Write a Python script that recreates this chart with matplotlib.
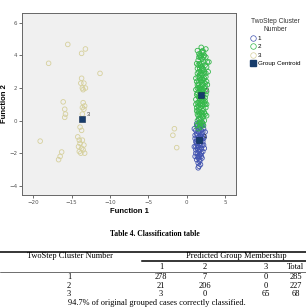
import numpy as np
import matplotlib
matplotlib.use("Agg")
import matplotlib.pyplot as plt
from matplotlib.lines import Line2D

# cluster 1 (blue)
c1_x = [1.6, 2.0, 1.4, 1.8, 2.2, 1.2, 1.6, 2.0, 1.4, 1.8, 2.3, 1.1, 1.5, 1.9, 2.1, 1.3, 1.7, 2.2, 1.0, 1.5,
        1.9, 1.2, 1.7, 2.1, 1.4, 1.8, 1.1, 1.6, 2.0, 1.3, 1.7, 1.5, 1.8, 1.6, 1.7, 1.5, 1.9, 1.3, 1.7, 1.4,
        1.8, 1.6, 1.5, 1.9, 2.0, 1.2, 1.6, 1.8, 1.4, 2.1,
        1.3, 2.1, 1.0, 2.4, 1.1, 2.2, 1.3, 2.0, 1.2, 2.3, 1.5, 1.9, 1.2, 1.4, 1.7, 1.7, 1.5, 2.0, 1.6, 1.9]
c1_y = [0.1, -0.1, -0.3, -0.4, -0.5, -0.6, -0.7, -0.8, -0.9, -1.0, -1.0, -1.1, -1.2, -1.2, -1.3, -1.4, -1.4, -1.5, -1.6, -1.6,
        -1.7, -1.8, -1.8, -1.9, -2.0, -2.1, -2.2, -2.2, -2.3, -2.4, -2.5, -2.6, -2.7, -2.8, -0.2, -0.5, -0.6, -0.8, -1.1, -1.5,
        -1.5, -1.9, -2.3, -2.0, -1.1, -1.3, -1.0, -0.9, -1.7, -0.7,
        -0.2, -0.3, -0.5, -0.7, -0.9, -1.1, -1.2, -1.5, -1.6, -1.7, -1.8, -2.2, -2.0, -2.2, -2.1, -2.4, -2.9, -1.0, -0.4, -0.3]

# cluster 2 (green)
c2_x = [1.9, 2.5, 2.1, 1.6, 2.3, 1.8, 2.7, 2.0, 1.5, 2.2, 1.7, 2.4, 1.9, 1.4, 2.1, 1.6, 2.3, 1.8, 2.0, 1.5,
        2.5, 1.7, 2.2, 1.3, 1.9, 2.4, 1.6, 2.1, 1.8, 1.4, 2.3, 2.0, 1.6, 2.6, 1.8, 1.3, 2.2, 1.5, 2.4, 1.9,
        1.7, 2.1, 1.4, 2.3, 1.8, 1.5, 2.0, 2.5, 1.6, 2.2, 1.3, 1.9, 1.7, 2.4, 1.5, 2.1, 1.8, 1.4, 2.0, 1.6,
        2.2, 1.8, 1.5, 2.0, 1.7, 2.2, 1.8, 2.0, 1.7, 2.3, 1.5, 2.0, 1.7, 2.1, 1.9, 1.6, 2.2, 1.9, 1.7, 2.1,
        1.9, 1.6, 2.3, 1.7, 2.8, 1.2, 2.6, 2.4, 1.8, 2.0,
        1.4, 2.2, 1.6, 2.5, 1.3, 2.6, 1.5, 2.2, 1.4, 2.5, 1.2, 2.0, 2.6, 1.4, 2.4, 1.2, 1.9, 2.5, 1.4, 2.0,
        1.2, 2.4, 1.6, 2.6, 1.3, 1.8, 2.3, 1.4, 2.2, 1.6, 2.1, 1.3, 1.9, 2.0, 1.7, 2.1, 1.8, 1.6, 2.2, 1.7,
        2.1, 1.5, 2.0, 1.8, 2.9, 2.7]
c2_y = [4.5, 4.4, 4.3, 4.1, 4.0, 3.9, 3.6, 3.8, 3.7, 3.6, 3.5, 3.4, 3.3, 3.2, 3.2, 3.0, 3.0, 2.9, 2.8, 2.7,
        2.7, 2.6, 2.5, 2.4, 2.4, 2.3, 2.2, 2.2, 2.1, 2.0, 2.0, 1.9, 1.8, 1.8, 1.7, 1.6, 1.6, 1.5, 1.4, 1.4,
        1.3, 1.2, 1.1, 1.1, 1.0, 0.9, 0.9, 0.8, 0.7, 0.7, 0.6, 0.5, 0.4, 0.4, 0.3, 0.2, 0.1, 0.0, -0.1, -0.2,
        -0.3, -0.4, -0.5, 4.2, 4.0, 3.9, 3.4, 3.1, 2.8, 2.6, 2.3, 2.2, 2.0, 1.8, 1.6, 1.4, 1.3, 1.2, 1.0, 0.6,
        0.3, 0.5, 0.0, -0.1, 3.0, 1.0, 0.3, 1.0, 1.9, 2.5,
        4.3, 4.2, 3.9, 3.9, 3.5, 3.3, 3.4, 3.1, 2.9, 2.9, 2.6, 2.6, 2.4, 2.2, 2.1, 1.9, 1.9, 1.6, 1.7, 1.5,
        1.3, 1.2, 1.1, 1.0, 0.8, 0.8, 0.5, 0.4, 0.3, 0.1, -0.2, -0.3, 4.0, 3.5, 3.2, 2.9, 2.5, 2.0, 1.9, 1.5,
        1.0, 0.6, 0.4, -0.2, 3.6, 2.2]

# cluster 3 (beige)
c3_x = [-15.5, -18.0, -13.7, -13.2, -11.3, -13.7, -13.4, -13.6, -13.2, -13.5, -16.1, -15.9, -15.8, -15.9, -13.5, -13.3,
        -13.6, -13.4, -13.9, -13.7, -19.1, -14.2, -13.6, -13.9, -13.4, -14.1, -13.7, -13.5, -14.0, -13.3, -16.3, -16.5,
        -16.7, -1.6, -1.8, -1.3, -13.8, -13.6, -14.0, -13.8]
c3_y = [4.68, 3.52, 4.13, 4.4, 2.9, 2.6, 2.3, 2.0, 2.0, 1.9, 1.15, 0.7, 0.4, 0.2, 1.1, 0.9,
        0.8, 0.7, -0.4, -0.6, -1.26, -1.0, -1.2, -1.4, -1.5, -1.6, -1.7, -1.8, -1.9, -2.0, -1.93, -2.2,
        -2.4, -0.5, -0.9, -1.66, 2.3, 0.4, -1.2, -2.0]

cent_x = [1.63, 1.85, -13.6]
cent_y = [-1.21, 1.59, 0.11]
cent_lab = ["1", "2", "3"]

col_labels = ["1", "2", "3", "Total"]
row_labels = ["1", "2", "3"]
table_vals = [[278, 7, 0, 285],
              [21, 206, 0, 227],
              [3, 0, 65, 68]]

W, H = 306, 308
fig = plt.figure(figsize=(3.06, 3.08), dpi=100)
ax = fig.add_axes([22/W, 1 - 195/H, 214/W, 182/H])
ax.set_facecolor('#F0F0F0')

ax.scatter(c1_x, c1_y, s=11, facecolors='none', edgecolors='#4254B0', linewidths=0.6, zorder=2)
ax.scatter(c2_x, c2_y, s=11, facecolors='none', edgecolors='#34B84A', linewidths=0.6, zorder=3)
ax.scatter(c3_x, c3_y, s=11, facecolors='none', edgecolors='#D6D09C', linewidths=0.6, zorder=2)
ax.scatter(cent_x, cent_y, s=24, marker='s', color='#173C6B', edgecolors='#0E2A4E', linewidths=0.4, zorder=5)
for cx, cy, lb in zip(cent_x, cent_y, cent_lab):
    ax.text(cx + 0.6, cy + 0.15, lb, fontsize=4, color='#333333', family='Liberation Sans', zorder=6)

ax.set_xlim(-21.47, 6.43)
ax.set_ylim(-4.57, 6.61)
ax.set_xticks([-20, -15, -10, -5, 0, 5])
ax.set_yticks([-4, -2, 0, 2, 4, 6])
ax.tick_params(labelsize=4, colors='#555555', length=2.5, width=0.6, pad=1)
for sp in ax.spines.values():
    sp.set_color('#666666')
    sp.set_linewidth(0.7)
ax.set_xlabel("Function 1", fontsize=5.5, fontweight='bold', family='Liberation Sans', labelpad=2)
ax.set_ylabel("Function 2", fontsize=5.5, fontweight='bold', family='Liberation Sans', labelpad=0.5)

# legend
handles = [Line2D([], [], ls='none', marker='o', mfc='none', mec='#4254B0', ms=4, mew=0.5),
           Line2D([], [], ls='none', marker='o', mfc='none', mec='#34B84A', ms=4, mew=0.5),
           Line2D([], [], ls='none', marker='o', mfc='none', mec='#D6D09C', ms=4, mew=0.5),
           Line2D([], [], ls='none', marker='s', color='#173C6B', ms=4.5)]
leg = fig.legend(handles, ["1", "2", "3", "Group Centroid"], title="TwoStep Cluster\nNumber",
                 loc='upper left', bbox_to_anchor=(247/W, 1 - 15/H), frameon=False,
                 prop={'family': 'Liberation Sans', 'size': 4.5}, title_fontsize=4.8,
                 handlelength=1.0, handletextpad=0.2, labelspacing=0.45, borderpad=0)
leg.get_title().set_family('Liberation Sans')
leg.get_title().set_color('#333333')
leg.get_title().set_multialignment('center')

# table
def fy(py):
    return 1 - py / H

def fx(px):
    return px / W

serif = 'Liberation Serif'
fig.text(fx(155), fy(234), "Table 4. Classification table", ha='center', va='center',
         fontsize=5.5, fontweight='bold', family=serif)
fig.add_artist(Line2D([0, 1], [fy(251.5), fy(251.5)], transform=fig.transFigure, color='black', lw=1.1))
fig.add_artist(Line2D([fx(142), 1], [fy(261), fy(261)], transform=fig.transFigure, color='black', lw=1.1))
fig.add_artist(Line2D([0, 1], [fy(272), fy(272)], transform=fig.transFigure, color='black', lw=0.4))
fig.text(fx(70), fy(256), "TwoStep Cluster Number", ha='center', va='center', fontsize=6, family=serif)
fig.text(fx(236), fy(256), "Predicted Group Membership", ha='center', va='center', fontsize=6, family=serif)

col_x = [161, 205, 266, 296]
for cx, lb in zip(col_x, col_labels):
    fig.text(fx(cx), fy(267), lb, ha='center', va='center', fontsize=6, family=serif)
row_y = [277, 286, 294.5]
for ry, rl, vals in zip(row_y, row_labels, table_vals):
    fig.text(fx(69), fy(ry), rl, ha='center', va='center', fontsize=6, family=serif)
    for cx, v in zip(col_x, vals):
        fig.text(fx(cx), fy(ry), str(v), ha='center', va='center', fontsize=6, family=serif)
fig.text(fx(157), fy(303), "94.7% of original grouped cases correctly classified.", ha='center', va='center',
         fontsize=6, family=serif)

fig.savefig("out.png", dpi=100)
